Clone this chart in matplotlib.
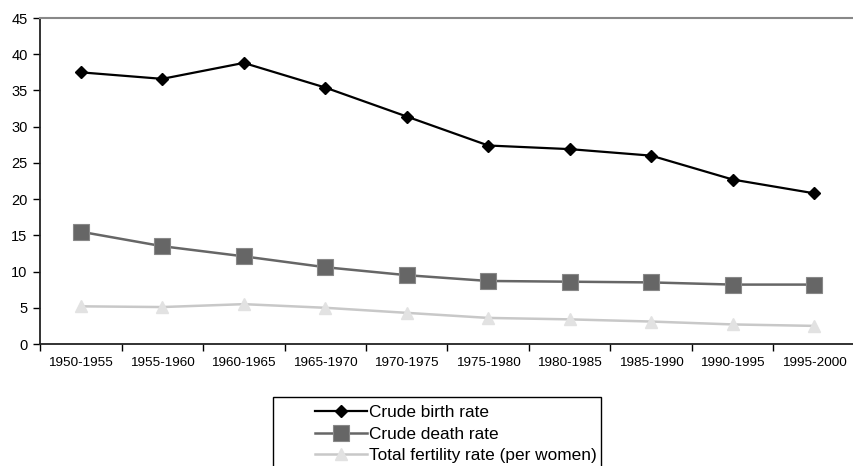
import matplotlib
matplotlib.use("Agg")
import matplotlib.pyplot as plt
from matplotlib.lines import Line2D
from matplotlib.patches import Rectangle
import numpy as np

plt.rcParams['font.family'] = ['Liberation Sans', 'DejaVu Sans']

periods = ["1950-1955", "1955-1960", "1960-1965", "1965-1970", "1970-1975",
           "1975-1980", "1980-1985", "1985-1990", "1990-1995", "1995-2000"]
birth_rate = [37.5, 36.6, 38.8, 35.4, 31.4, 27.4, 26.9, 26.0, 22.7, 20.8]
death_rate = [15.5, 13.5, 12.1, 10.6, 9.5, 8.7, 8.6, 8.5, 8.2, 8.2]
fertility_rate = [5.2, 5.1, 5.5, 5.0, 4.3, 3.6, 3.4, 3.1, 2.7, 2.5]

fig = plt.figure(figsize=(8.54, 4.66), dpi=100)
ax = fig.add_axes([40 / 854, 1 - 344 / 466, 815 / 854, 326 / 466])

x = np.arange(len(periods))
ax.plot(x, birth_rate, color="black", lw=1.6, marker="D", ms=6,
        mfc="black", mec="black", label="Crude birth rate", zorder=4)
ax.plot(x, death_rate, color="#666666", lw=1.8, marker="s", ms=11,
        mfc="#666666", mec="#888888", mew=0.8, label="Crude death rate", zorder=3)
ax.plot(x, fertility_rate, color="#c8c8c8", lw=1.8, marker="^", ms=9,
        mfc="#e2e2e2", mec="#e2e2e2", label="Total fertility rate (per women)", zorder=2)

ax.set_xlim(-0.5, len(periods) - 0.5)
ax.set_ylim(0, 45)
ax.set_yticks(np.arange(0, 46, 5))
ax.set_xticks(x)
ax.set_xticklabels(periods)
ax.set_xticks(np.arange(-0.5, len(periods), 1.0), minor=True)
ax.tick_params(axis="x", which="major", length=0, pad=9, labelsize=9.7)
ax.tick_params(axis="x", which="minor", length=5, width=1, color="black", direction="out")
ax.tick_params(axis="y", length=5, width=1, color="black", direction="out", pad=4, labelsize=10.5)

for side in ("left", "bottom"):
    ax.spines[side].set_color("#222222")
    ax.spines[side].set_linewidth(1.3)
ax.spines["top"].set_color("#888888")
ax.spines["top"].set_linewidth(1.5)
ax.spines["right"].set_visible(False)

# legend frame runs past the lower edge of the figure
box = Rectangle((273 / 854, -0.05), (601 - 273) / 854, 1.05 - 397 / 466,
                transform=fig.transFigure, fill=False, edgecolor="black", lw=1.0)
fig.patches.append(box)

handles = [
    Line2D([], [], color="black", lw=1.6, marker="D", ms=6, mfc="black", mec="black"),
    Line2D([], [], color="#666666", lw=1.8, marker="s", ms=11, mfc="#666666", mec="#888888", mew=0.8),
    Line2D([], [], color="#c8c8c8", lw=1.8, marker="^", ms=9, mfc="#e2e2e2", mec="#e2e2e2"),
]
labels = ["Crude birth rate", "Crude death rate", "Total fertility rate (per women)"]
fig.legend(handles, labels, loc="upper left", bbox_to_anchor=(315 / 854, 1 - 405 / 466),
           frameon=False, fontsize=12.4, handlelength=3.0, handletextpad=0.15,
           labelspacing=0.38, borderpad=0.0, borderaxespad=0.0)

fig.savefig("out.png", dpi=100)
